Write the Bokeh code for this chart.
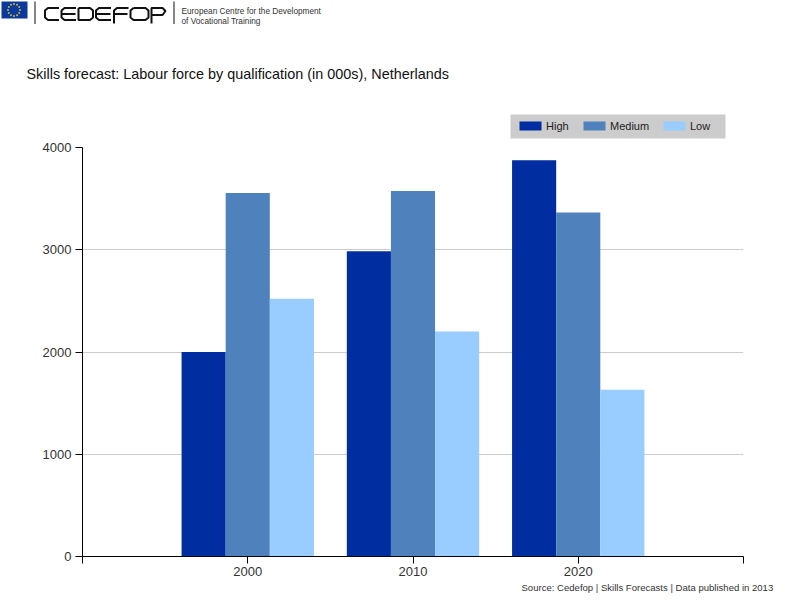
import math
from bokeh.embed import file_html
from bokeh.resources import INLINE
from bokeh.plotting import figure
from bokeh.models import FixedTicker, Range1d
from bokeh.core.properties import value

title = "Skills forecast: Labour force by qualification (in 000s), Netherlands"
source_note = "Source: Cedefop | Skills Forecasts | Data published in 2013"
years = [2000, 2010, 2020]
high = [2000, 2985, 3875]
medium = [3555, 3575, 3365]
low = [2520, 2200, 1630]
series = {"High": high, "Medium": medium, "Low": low}
colors = ["#002d9f", "#4f81bd", "#99ccff"]
y_ticks = [0, 1000, 2000, 3000, 4000]
x_ticks = [1990, 2000, 2010, 2020, 2030]
FONT = "Liberation Sans"
HEAD_H, CHART_H, FOOT_H = 140, 442, 18


def strip(h):
    f = figure(width=800, height=h, x_range=Range1d(0, 800), y_range=Range1d(h, 0),
               output_backend="svg", toolbar_location=None, min_border=0,
               x_axis_location=None, y_axis_location=None, outline_line_color=None)
    f.xgrid.visible = False
    f.ygrid.visible = False
    return f


# --- header: logo, title, legend, in page pixels ---
head = strip(HEAD_H)
head.quad(left=[1], right=[27], top=[1], bottom=[18], fill_color="#0a3a9c", line_color=None)
star_x = [13.5 + 6 * math.cos(i * math.pi / 6) for i in range(12)]
star_y = [9.5 + 6 * math.sin(i * math.pi / 6) for i in range(12)]
head.scatter(star_x, star_y, size=2, marker="circle", fill_color="#c8b53a", line_color=None)
head.segment([34.5, 173.5], [1, 1], [34.5, 173.5], [23.5, 23.5], line_color="#444444", line_width=1.3)
t, m, b = 7.5, 13.5, 19.5


def open_left(x, w):
    r = x + w
    return [r, x + 3, x, x, x + 3, r], [t, t, t + 2.5, b - 2.5, b, b]


strokes = []
strokes.append(open_left(44.5, 14))                # C
strokes.append(open_left(61, 14.5))                # E
strokes.append(([61, 75], [m, m]))
dx, dw = 78, 14.5                                  # D
strokes.append(([dx, dx + dw - 3, dx + dw, dx + dw, dx + dw - 3, dx, dx],
                [t, t, t + 2.5, b - 2.5, b, b, t]))
strokes.append(open_left(95.5, 15))                # E
strokes.append(([95.5, 110], [m, m]))
fx, fw = 113.5, 14.5                               # F
strokes.append(([fx + fw, fx + 3, fx, fx], [t, t, t + 2.5, 23]))
strokes.append(([fx, fx + fw - 1], [m, m]))
ox, ow = 130, 18                                   # O
strokes.append(([ox + 3, ox + ow - 3, ox + ow, ox + ow, ox + ow - 3, ox + 3, ox, ox, ox + 3],
                [t, t, t + 2.5, b - 2.5, b, b, b - 2.5, t + 2.5, t]))
qx, qw = 151, 14                                   # P
strokes.append(([qx, qx, qx + qw - 3, qx + qw, qx + qw - 3, qx], [23, t, t, t + 3, m + 1, m + 1]))
for sx, sy in strokes:
    head.line(sx, sy, line_color="#111111", line_width=2)
head.text([181, 181], [11, 21], text=["European Centre for the Development", "of Vocational Training"],
          text_font=value(FONT), text_font_size="8.25px", text_color="#333333", text_baseline="alphabetic")
head.text([26], [73.5], text=[title], text_font=value(FONT), text_font_size="14.4px",
          text_color="#111111", text_baseline="middle")
head.quad(left=[510], right=[725], top=[114], bottom=[138], fill_color="#cccccc", line_color=None)
head.quad(left=[519, 583, 663], right=[541, 605, 685], top=[121] * 3, bottom=[130] * 3,
          fill_color=colors, line_color=None)
head.text([545.5, 609.5, 689.5], [125.5, 125.5, 125.5], text=list(series), text_font=value(FONT),
          text_font_size="11px", text_color="#222222", text_baseline="middle")

# --- chart ---
p = figure(width=800, height=CHART_H, x_range=Range1d(1990, 2030), y_range=Range1d(0, 4000),
           output_backend="svg", toolbar_location=None, outline_line_color=None,
           min_border_left=82, min_border_right=57, min_border_top=7, min_border_bottom=26)
w = 2.67
for (name, vals), col, off in zip(series.items(), colors, [-w, 0, w]):
    p.vbar(x=[y + off for y in years], top=vals, width=w, fill_color=col, line_color=None)

p.xgrid.visible = False
p.ygrid.grid_line_color = "#cccccc"
p.ygrid.grid_line_width = 1
p.ygrid.ticker = FixedTicker(ticks=y_ticks)
p.xaxis.ticker = FixedTicker(ticks=x_ticks)
p.xaxis.major_label_overrides = {1990: "", 2030: ""}
p.yaxis.ticker = FixedTicker(ticks=y_ticks)
for ax in (p.xaxis[0], p.yaxis[0]):
    ax.axis_line_color = "#000000"
    ax.major_tick_line_color = "#000000"
    ax.major_tick_in = 0
    ax.major_tick_out = 7
    ax.minor_tick_line_color = None
    ax.major_label_text_font = FONT
    ax.major_label_text_font_size = "13px"
    ax.major_label_text_color = "#333333"
p.yaxis[0].major_label_standoff = 4
p.xaxis[0].major_label_standoff = 3

# --- footer ---
foot = strip(FOOT_H)
foot.text([521], [5], text=[source_note], text_font=value(FONT), text_font_size="9.55px",
          text_color="#333333", text_baseline="middle")

open("out.html", "w").write(file_html([head, p, foot], INLINE))
